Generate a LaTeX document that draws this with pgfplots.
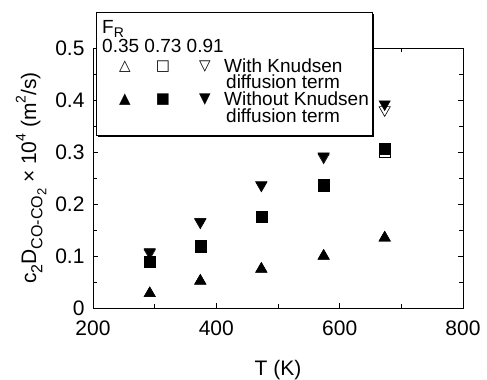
\documentclass[border=0pt]{standalone}
\usepackage{pgfplots}
\pgfplotsset{compat=1.18}
\usepackage{fontspec}
\setmainfont{Liberation Sans}
\newfontfamily\sym{DejaVu Sans}
\newcommand\sub[1]{\raisebox{-0.3em}{\fontsize{16}{16}\selectfont #1}}
\newcommand\ssub[1]{\raisebox{-0.25em}{\fontsize{13}{13}\selectfont #1}}
\newcommand\super[1]{\raisebox{0.5em}{\fontsize{14}{14}\selectfont #1}}
\begin{document}
\begin{tikzpicture}
\begin{axis}[name=ax, scale only axis, width=370pt, height=260pt,
 xmin=200, xmax=800, ymin=0, ymax=0.5,
 xtick={200,400,600,800}, ytick={0,0.1,0.2,0.3,0.4,0.5},
 minor x tick num=1, minor y tick num=1,
 tick align=inside, major tick length=5pt, minor tick length=4pt,
 tick style={black, line width=0.6pt},
 axis line style={line width=0.9pt},
 clip=false,
 tick label style={font=\fontsize{21}{21}\selectfont},
 label style={font=\fontsize{21}{21}\selectfont},
 xticklabel style={yshift=-9pt},
 yticklabel style={xshift=-5pt, /pgf/number format/fixed, /pgf/number format/precision=1},
 /pgf/number format/assume math mode=true,
 xlabel={T (K)},
 xlabel style={inner sep=0pt, yshift=-21pt},
 ylabel={c\sub{2}D\sub{CO-CO\ssub{2}} × 10\super{4} (m\super{2}/s)},
 ylabel style={yshift=2pt},
]
% open markers (with Knudsen diffusion term)
\addplot[only marks, mark=triangle*, mark size=6.5pt, mark options={fill=white, draw=black, line width=0.6pt}]
 coordinates {(292,0.028) (374,0.052) (473,0.075) (574,0.100) (673,0.135)};
\addplot[only marks, mark=square*, mark size=5.5pt, mark options={fill=white, draw=black, line width=0.6pt}]
 coordinates {(292,0.088) (374,0.118) (473,0.175) (574,0.235) (673,0.300)};
\addplot[only marks, mark=triangle*, mark size=6.5pt, mark options={fill=white, draw=black, line width=0.6pt, rotate=180}]
 coordinates {(292,0.106) (374,0.165) (473,0.236) (574,0.290) (673,0.381)};
% filled markers (without Knudsen diffusion term)
\addplot[only marks, mark=triangle*, mark size=6.5pt, mark options={fill=black, draw=black}]
 coordinates {(292,0.028) (374,0.052) (473,0.075) (574,0.100) (673,0.135)};
\addplot[only marks, mark=square*, mark size=5.5pt, mark options={fill=black, draw=black}]
 coordinates {(292,0.090) (374,0.119) (473,0.176) (574,0.237) (673,0.306)};
\addplot[only marks, mark=triangle*, mark size=6.5pt, mark options={fill=black, draw=black, rotate=180}]
 coordinates {(292,0.108) (374,0.166) (473,0.237) (574,0.292) (673,0.392)};
\end{axis}
\begin{scope}[shift={([xshift=3pt,yshift=36pt]ax.north west)}, font=\fontsize{19}{16}\selectfont]
\fill[black] (2pt,-2pt) rectangle (278pt,-125pt);
\draw[fill=white, line width=0.8pt] (0,0) rectangle (276pt,-123pt);
\node[anchor=base west, inner sep=0] at (6pt,-21pt) {F\raisebox{-0.25em}{\fontsize{14}{14}\selectfont R}};
\node[anchor=base west, inner sep=0] at (6pt,-40pt) {0.35 0.73 0.91};
\node[inner sep=0, font=\fontsize{15}{15}\sym] at (29pt,-55pt) {△};
\node[inner sep=0, font=\fontsize{15}{15}\sym] at (67pt,-55pt) {□};
\node[inner sep=0, font=\fontsize{15}{15}\sym] at (109pt,-55pt) {▽};
\node[inner sep=0, font=\fontsize{15}{15}\sym] at (29pt,-88pt) {▲};
\node[inner sep=0, font=\fontsize{15}{15}\sym] at (67pt,-88pt) {■};
\node[inner sep=0, font=\fontsize{15}{15}\sym] at (109pt,-88pt) {▼};
\node[anchor=base west, inner sep=0] at (128pt,-60pt) {With Knudsen};
\node[anchor=base west, inner sep=0] at (130pt,-76pt) {diffusion term};
\node[anchor=base west, inner sep=0] at (128pt,-93pt) {Without Knudsen};
\node[anchor=base west, inner sep=0] at (130pt,-110pt) {diffusion term};
\end{scope}
\path ([shift={(-93pt,-70pt)}]ax.south west) rectangle ([shift={(24pt,48pt)}]ax.north east);
\end{tikzpicture}
\end{document}
